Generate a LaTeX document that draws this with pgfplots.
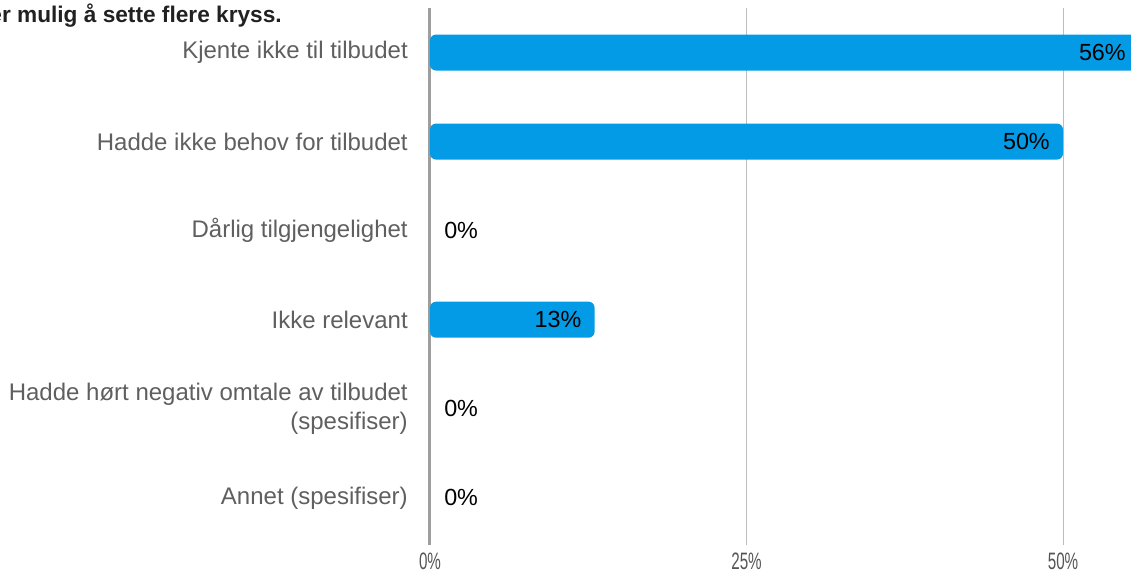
\documentclass[border=0pt]{standalone}
\usepackage{pgfplots}
\pgfplotsset{compat=1.18}
\usepackage{pgfplotstable}
\usepackage{fontspec}
\setmainfont{Liberation Sans}
\definecolor{barblue}{HTML}{039BE5}
\definecolor{labelgray}{HTML}{5F5F5F}
\definecolor{gridgray}{HTML}{BDBDBD}
\definecolor{zerogray}{HTML}{9E9E9E}
\definecolor{titleblack}{HTML}{212121}

% bars with a value above zero
\pgfplotstableread{
y val
0 56
1 50
3 13
}\nonzerodata
% categories with 0%
\pgfplotstableread{
y val
2 0
4 0
5 0
}\zerodata

\begin{document}
\begin{tikzpicture}
\useasboundingbox (-322.5pt,-24pt) rectangle (525.75pt,408.75pt);
\clip (-322.5pt,-24pt) rectangle (525.75pt,408.75pt);
\node[anchor=base east, inner sep=0pt, font=\fontsize{17}{21}\selectfont\bfseries, text=titleblack]
  at (-111pt,391.5pt) {Det er mulig å sette flere kryss.};
\begin{axis}[
    at={(0,0)}, anchor=south west,
    scale only axis,
    width=525.75pt, height=402.75pt,
    xmin=0, xmax=55.37,
    ymin=-0.5, ymax=5.53,
    y dir=reverse,
    clip=false,
    /pgf/number format/assume math mode=true,
    axis line style={draw=none},
    tick style={draw=none},
    xtick={0,25,50},
    xticklabels={0\%,25\%,50\%},
    xmajorgrids,
    grid style={gridgray, line width=0.75pt},
    extra x ticks={0},
    extra x tick labels={},
    extra x tick style={grid style={zerogray, line width=2.25pt}},
    x tick label style={font=\fontsize{17.8}{21}\selectfont, text=labelgray!90!black,
        inner sep=0pt, yshift=-5.5pt, xscale=0.64},
    ytick={0,1,2,3,4,5},
    yticklabels={{Kjente ikke til tilbudet},{Hadde ikke behov for tilbudet},
        {Dårlig tilgjengelighet},{Ikke relevant},
        {Hadde hørt negativ omtale av tilbudet\\(spesifiser)},{Annet (spesifiser)}},
    y tick label style={font=\fontsize{18}{22}\selectfont, text=labelgray,
        align=right, inner sep=0pt, xshift=-16.5pt},
]
\addplot[xbar, bar width=27pt, bar shift=0pt, fill=barblue, draw=none,
    rounded corners=4.5pt, point meta=x,
    nodes near coords={\pgfmathprintnumber{\pgfplotspointmeta}\%},
    nodes near coords style={anchor=east, inner sep=0pt, xshift=-9.75pt,
        text=black, font=\fontsize{17.5}{21}\selectfont}]
    table[x=val, y=y] {\nonzerodata};
\addplot[xbar, bar width=27pt, bar shift=0pt, draw=none, fill=none, point meta=x,
    nodes near coords={\pgfmathprintnumber{\pgfplotspointmeta}\%},
    nodes near coords style={anchor=west, inner sep=0pt, xshift=10.5pt,
        text=black, font=\fontsize{17.5}{21}\selectfont}]
    table[x=val, y=y] {\zerodata};
\end{axis}
\end{tikzpicture}
\end{document}
